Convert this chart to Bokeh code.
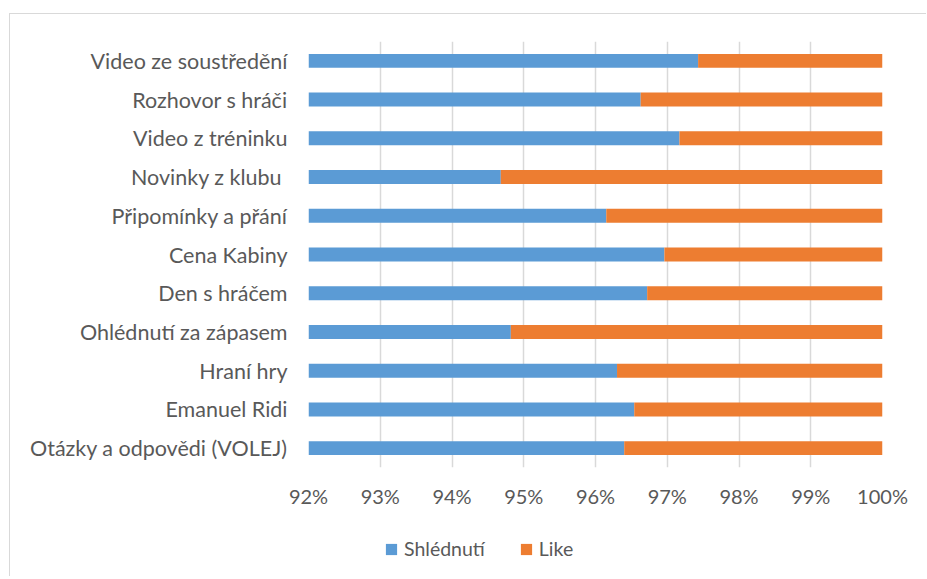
from bokeh.plotting import figure
from bokeh.layouts import column
from bokeh.models import FactorRange, Range1d, FixedTicker, PrintfTickFormatter, Legend, LegendItem
from bokeh.embed import file_html
from bokeh.resources import INLINE

# Data (bottom to top)
categories = [
    "Otázky a odpovědi (VOLEJ)",
    "Emanuel Ridi",
    "Hraní hry",
    "Ohlédnutí za zápasem",
    "Den s hráčem",
    "Cena Kabiny",
    "Připomínky a přání",
    "Novinky z klubu ",
    "Video z tréninku",
    "Rozhovor s hráči",
    "Video ze soustředění",
]
shlednuti = [96.40, 96.54, 96.30, 94.82, 96.72, 96.96, 96.15, 94.68, 97.17, 96.63, 97.43]
like = [3.60, 3.46, 3.70, 5.18, 3.28, 3.04, 3.85, 5.32, 2.83, 3.37, 2.57]
x_ticks = [92, 93, 94, 95, 96, 97, 98, 99, 100]
series_names = ["Shlédnutí", "Like"]
colors = ["#5B9BD5", "#ED7D31"]

FONT = "Lato"
GREY = "#595959"

p = figure(
    y_range=FactorRange(factors=categories),
    x_range=Range1d(92, 100),
    width=916, height=499,
    output_backend="svg", toolbar_location=None,
    min_border_left=298, min_border_right=44,
    min_border_top=27, min_border_bottom=46,
)
p.outline_line_color = None

source = dict(cat=categories, shlednuti=shlednuti, like=like)
renderers = p.hbar_stack(["shlednuti", "like"], y="cat", height=0.36, color=colors,
                         source=source, line_color=None)

p.xaxis.ticker = FixedTicker(ticks=x_ticks)
p.xaxis.formatter = PrintfTickFormatter(format="%d%%")
p.xaxis.axis_line_color = None
p.xaxis.major_tick_line_color = None
p.xaxis.minor_tick_line_color = None
p.xaxis.major_label_standoff = 10
p.xaxis.major_label_text_font_size = "20px"
p.yaxis.axis_line_color = None
p.yaxis.major_tick_line_color = None
p.yaxis.major_label_standoff = 15
p.yaxis.major_label_text_font_size = "21.5px"
for ax in (p.xaxis[0], p.yaxis[0]):
    ax.major_label_text_font = FONT
    ax.major_label_text_color = GREY

p.xgrid.grid_line_color = "#d9d9d9"
p.xgrid.grid_line_width = 1.5
p.ygrid.grid_line_color = None

# Legend strip below the chart
lp = figure(
    width=916, height=63, output_backend="svg", toolbar_location=None,
    x_range=Range1d(0, 1), y_range=Range1d(0, 1),
    x_axis_type=None, y_axis_type=None,
    min_border_left=298, min_border_right=44, min_border_top=0, min_border_bottom=0,
)
lp.outline_line_color = None
lp.xgrid.visible = False
lp.ygrid.visible = False
# zero-size helper glyphs that only provide the legend keys
keys = [lp.hbar(y=[0], left=[0], right=[0], height=0, color=c, line_color=None) for c in colors]

legend = Legend(
    items=[LegendItem(label=series_names[i], renderers=[keys[i]]) for i in range(2)],
    orientation="horizontal", location=(76, 16),
    label_text_font=FONT, label_text_font_size="19.5px", label_text_color=GREY,
    glyph_width=14, glyph_height=14, label_standoff=6, spacing=34,
    padding=0, margin=0, border_line_color=None, background_fill_alpha=0,
)
lp.add_layout(legend, "center")

layout = column(p, lp, spacing=0)
layout.styles = {"border-top": "1.5px solid #d9d9d9", "border-left": "1.5px solid #d9d9d9",
                 "margin-top": "13px", "margin-left": "9px"}

open("out.html", "w").write(file_html(layout, INLINE))
